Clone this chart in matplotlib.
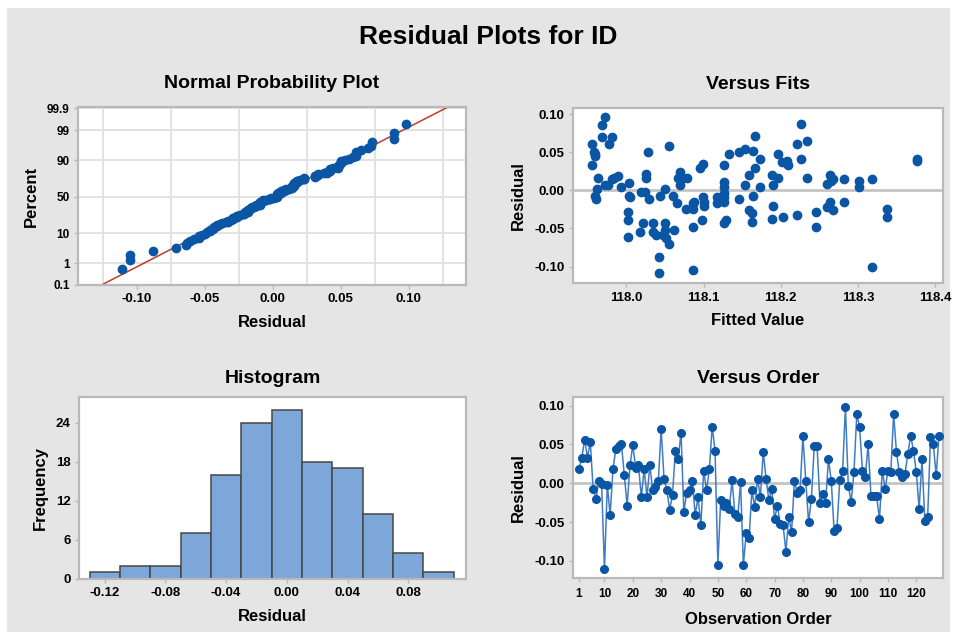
import numpy as np
import matplotlib.pyplot as plt
from matplotlib.patches import Rectangle
from matplotlib.ticker import FixedLocator, FormatStrFormatter
from statistics import NormalDist

plt.rcParams['font.family'] = ['Liberation Sans', 'DejaVu Sans']
plt.rcParams['font.weight'] = 'bold'
plt.rcParams['axes.unicode_minus'] = False

resid = [0.018, 0.033, 0.056, 0.033, 0.053, -0.007, -0.020, 0.003, -0.001, -0.111,
         -0.002, -0.041, 0.018, 0.044, 0.048, 0.050, 0.010, -0.029, 0.023, 0.049,
         0.020, 0.023, -0.018, 0.018, -0.018, 0.023, -0.009, -0.005, 0.003, 0.070,
         0.006, -0.009, -0.034, -0.015, 0.042, 0.031, 0.065, -0.037, -0.012, -0.009,
         0.003, -0.041, -0.018, -0.054, 0.016, -0.009, 0.018, 0.073, 0.042, -0.105,
         -0.021, -0.029, -0.026, -0.033, 0.004, -0.039, -0.044, 0.001, -0.105, -0.064,
         -0.071, -0.009, -0.031, 0.006, -0.018, 0.040, 0.006, -0.022, -0.007, -0.046,
         -0.029, -0.052, -0.054, -0.088, -0.043, -0.063, 0.003, -0.012, -0.009, 0.061,
         0.003, -0.050, -0.020, 0.048, 0.048, -0.026, -0.014, -0.026, 0.031, 0.003,
         -0.061, -0.058, 0.004, 0.016, 0.098, -0.003, -0.024, 0.014, 0.089, 0.072,
         0.016, 0.008, 0.050, -0.016, -0.016, -0.017, -0.046, 0.016, -0.007, 0.016,
         0.014, 0.089, 0.040, 0.014, 0.008, 0.012, 0.038, 0.061, 0.042, 0.014,
         -0.033, 0.031, -0.048, -0.044, 0.059, 0.050, 0.010, 0.061]

fitted = [117.956, 117.958, 117.959, 117.960, 117.956, 117.963, 117.959, 117.961, 117.962,
          117.968, 117.973, 117.969, 117.978, 117.982, 117.972, 117.976, 117.981, 117.984,
          117.989, 117.993, 118.003, 118.003, 118.005, 118.002, 118.002, 118.002, 118.018,
          118.019, 118.024, 118.025, 118.025, 118.028, 118.029, 118.022, 118.035, 118.035,
          118.042, 118.042, 118.044, 118.050, 118.039, 118.047, 118.050, 118.052, 118.055,
          118.050, 118.055, 118.062, 118.061, 118.066, 118.067, 118.070, 118.070, 118.073,
          118.078, 118.077, 118.087, 118.087, 118.088, 118.087, 118.087, 118.095, 118.099,
          118.098, 118.099, 118.100, 118.100, 118.117, 118.117, 118.126, 118.126, 118.127,
          118.126, 118.127, 118.126, 118.129, 118.126, 118.133, 118.146, 118.146, 118.154,
          118.154, 118.159, 118.164, 118.164, 118.159, 118.163, 118.163, 118.167, 118.167,
          118.173, 118.173, 118.189, 118.190, 118.190, 118.189, 118.197, 118.197, 118.203,
          118.202, 118.208, 118.209, 118.221, 118.221, 118.226, 118.226, 118.234, 118.234,
          118.245, 118.245, 118.260, 118.264, 118.265, 118.268, 118.260, 118.264, 118.268,
          118.282, 118.282, 118.301, 118.301, 118.318, 118.318, 118.338, 118.338, 118.376,
          118.376]
fit_resid = [0.061, 0.051, 0.048, 0.045, 0.033, 0.017, -0.007, -0.011, 0.002,
             0.086, 0.096, 0.070, 0.061, 0.070, 0.007, 0.007, 0.015, 0.017,
             0.019, 0.004, 0.010, -0.007, -0.009, -0.028, -0.039, -0.061, -0.055,
             -0.002, -0.002, 0.022, 0.017, 0.050, -0.011, -0.043, -0.043, -0.054,
             -0.087, -0.108, -0.007, 0.002, -0.059, -0.059, -0.043, -0.063, -0.070,
             -0.052, 0.059, -0.052, -0.007, -0.017, 0.017, 0.024, 0.007, 0.016,
             0.017, -0.024, -0.024, -0.017, -0.015, -0.048, -0.104, 0.030, 0.035,
             -0.039, -0.009, -0.015, -0.020, -0.009, -0.017, 0.033, 0.011, 0.004,
             -0.004, -0.009, -0.015, -0.039, -0.043, 0.048, 0.050, -0.011, 0.054,
             0.007, 0.020, 0.052, -0.007, -0.026, -0.030, -0.041, 0.030, 0.072,
             0.041, 0.004, 0.020, 0.007, -0.020, -0.037, 0.048, 0.016, -0.035,
             0.037, 0.039, 0.033, 0.061, -0.032, 0.087, 0.041, 0.065, 0.017,
             -0.028, -0.048, 0.009, 0.020, 0.013, 0.015, -0.022, -0.015, -0.026,
             0.015, -0.015, 0.012, 0.004, 0.015, -0.101, -0.024, -0.035, 0.041,
             0.039]

# histogram
bin_centers = [-0.12, -0.10, -0.08, -0.06, -0.04, -0.02, 0.00, 0.02, 0.04, 0.06, 0.08, 0.10]
bin_counts = [1, 2, 2, 7, 16, 24, 26, 18, 17, 10, 4, 1]

pct_ticks = [0.1, 1, 10, 50, 90, 99, 99.9]
pct_labels = ['0.1', '1', '10', '50', '90', '99', '99.9']

BLUE = '#0b55a5'
FRAME = '#b9b9b9'

fig = plt.figure(figsize=(9.55, 6.37), dpi=100, facecolor='white')
fig.patches.append(Rectangle((7 / 955, 0.008), 943 / 955, 1 - 8 / 637 - 0.008,
                             transform=fig.transFigure, facecolor='#e5e5e5',
                             edgecolor='none', zorder=-10))
fig.text(0.511, 0.942, 'Residual Plots for ID', ha='center', va='center',
         fontsize=19, fontweight='bold')


def style(ax, title, xlabel, ylabel, tpad):
    ax.set_facecolor('white')
    for s in ax.spines.values():
        s.set_color(FRAME)
        s.set_linewidth(1.6)
    ax.tick_params(which='major', length=3, width=1, color=FRAME, labelsize=9.5, pad=3)
    ax.tick_params(which='minor', length=0)
    ax.set_title(title, fontsize=14, fontweight='bold', pad=tpad)
    ax.set_xlabel(xlabel, fontsize=12, fontweight='bold', labelpad=7)
    ax.set_ylabel(ylabel, fontsize=12, fontweight='bold', labelpad=6)


# normal probability plot
ax1 = fig.add_axes([0.0817, 0.5526, 0.4063, 0.2794])
nd = NormalDist()
srt = np.sort(resid)
n = len(srt)
zq = np.array([nd.inv_cdf((i + 1 - 0.3) / (n + 0.4)) for i in range(n)])
mu, sd = np.mean(resid), np.std(resid, ddof=1)
zl = np.array([-3.3, 3.3])
ax1.plot(mu + sd * zl, zl, color='#c0392b', lw=1.1, zorder=2)
ax1.plot(srt, zq, 'o', color=BLUE, ms=6, zorder=3)
ax1.set_xlim(-0.143, 0.142)
ax1.set_ylim(nd.inv_cdf(0.001), 3.14)
ax1.set_xticks([-0.10, -0.05, 0.0, 0.05, 0.10])
ax1.xaxis.set_major_formatter(FormatStrFormatter('%.2f'))
ax1.xaxis.set_minor_locator(FixedLocator(np.arange(-0.125, 0.13, 0.025)))
ax1.set_yticks([nd.inv_cdf(p / 100) for p in pct_ticks])
ax1.grid(True, which='minor', axis='x', color='#e2e2e2', lw=1.4, zorder=0)
ax1.grid(True, which='major', axis='y', color='#e2e2e2', lw=1.4, zorder=0)
ax1.set_axisbelow(True)
style(ax1, 'Normal Probability Plot', 'Residual', 'Percent', 14)
ax1.set_yticklabels(pct_labels, fontsize=8.5)

# versus fits
ax2 = fig.add_axes([0.6, 0.5553, 0.3874, 0.2747])
ax2.axhline(0, color='#c4c4c4', lw=2, zorder=1)
ax2.plot(fitted, fit_resid, 'o', color=BLUE, ms=6, zorder=3)
ax2.set_xlim(117.931, 118.41)
ax2.set_ylim(-0.122, 0.108)
ax2.set_xticks([118.0, 118.1, 118.2, 118.3, 118.4])
ax2.xaxis.set_major_formatter(FormatStrFormatter('%.1f'))
ax2.set_yticks([-0.10, -0.05, 0.0, 0.05, 0.10])
ax2.yaxis.set_major_formatter(FormatStrFormatter('%.2f'))
style(ax2, 'Versus Fits', 'Fitted Value', 'Residual', 14)

# histogram
ax3 = fig.add_axes([0.0827, 0.0911, 0.4052, 0.2857])
ax3.bar(bin_centers, bin_counts, width=0.02, color='#7da6d9', edgecolor='#474747',
        linewidth=1.1, zorder=2)
ax3.set_xlim(-0.137, 0.118)
ax3.set_ylim(0, 28)
ax3.set_xticks([-0.12, -0.08, -0.04, 0.0, 0.04, 0.08])
ax3.xaxis.set_major_formatter(FormatStrFormatter('%.2f'))
ax3.set_yticks([0, 6, 12, 18, 24])
style(ax3, 'Histogram', 'Residual', 'Frequency', 10)

# versus order
ax4 = fig.add_axes([0.6, 0.0926, 0.3874, 0.2842])
obs = np.arange(1, len(resid) + 1)
ax4.axhline(0, color='#c4c4c4', lw=2, zorder=1)
ax4.plot(obs, resid, '-', color='#3f7cc4', lw=1.1, zorder=2)
ax4.plot(obs, resid, 'o', color=BLUE, ms=5.5, zorder=3)
ax4.set_xlim(-1.1, 129.4)
ax4.set_ylim(-0.122, 0.111)
ax4.set_xticks([1, 10, 20, 30, 40, 50, 60, 70, 80, 90, 100, 110, 120])
ax4.set_yticks([-0.10, -0.05, 0.0, 0.05, 0.10])
ax4.yaxis.set_major_formatter(FormatStrFormatter('%.2f'))
style(ax4, 'Versus Order', 'Observation Order', 'Residual', 10)
ax4.tick_params(axis='x', labelsize=8.5, pad=4)
ax4.xaxis.labelpad = 9

fig.savefig('out.png', dpi=100)
